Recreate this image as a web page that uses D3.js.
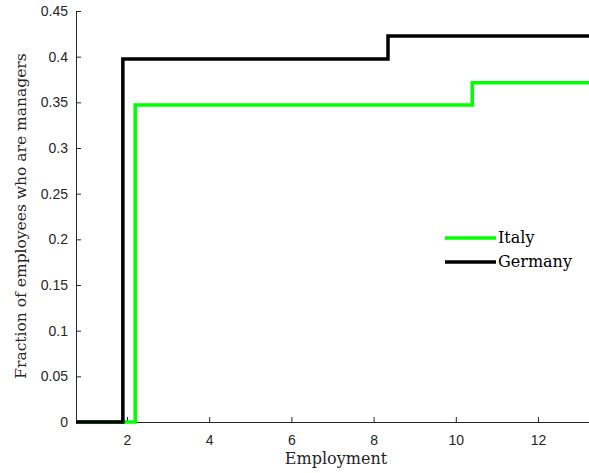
<!DOCTYPE html>
<html>
<head>
<meta charset="utf-8">
<script src="https://cdn.jsdelivr.net/npm/d3@7"></script>
<style>
  body { margin: 0; background: #fff; }
  .axis text { font-family: "Liberation Sans", Arial, sans-serif; font-size: 14px; fill: #262626; }
  .axis path, .axis line { stroke: #262626; }
  .lbl { font-family: "DejaVu Serif", serif; font-size: 16px; }
</style>
</head>
<body>
<div id="chart"></div>
<script>
// step data
const xDomain = [0.76, 13.24];
const italyX = [0.76, 2.2, 10.4, 13.24];
const italyY = [0, 0.347, 0.3715, 0.3715];
const germanyX = [0.76, 1.9, 8.35, 13.24];
const germanyY = [0, 0.3975, 0.4225, 0.4225];
const xTicks = [2, 4, 6, 8, 10, 12];
const yTicks = [0, 0.05, 0.1, 0.15, 0.2, 0.25, 0.3, 0.35, 0.4, 0.45];

const series = [
  {name: "Italy", xs: italyX, ys: italyY, color: "#00ff00"},
  {name: "Germany", xs: germanyX, ys: germanyY, color: "#000000"}
];

const W = 589, H = 473;
const margin = {top: 11, right: 0, bottom: 51, left: 76};
const width = W - margin.left - margin.right;
const height = H - margin.top - margin.bottom;

const svg = d3.select("#chart").append("svg")
  .attr("width", W)
  .attr("height", H);

const g = svg.append("g")
  .attr("transform", `translate(${margin.left},${margin.top})`);

const x = d3.scaleLinear().domain(xDomain).range([0, width]);
const y = d3.scaleLinear().domain([0, 0.45]).range([height, 0]);

g.append("g")
  .attr("class", "axis")
  .attr("transform", `translate(0,${height})`)
  .call(d3.axisBottom(x).tickValues(xTicks).tickSize(-5).tickSizeOuter(0).tickPadding(10))
  .call(a => a.selectAll("text").attr("dy", "0.9em"));

g.append("g")
  .attr("class", "axis")
  .call(d3.axisLeft(y).tickValues(yTicks).tickSize(-5).tickSizeOuter(0).tickPadding(8)
    .tickFormat(d => d === 0 ? "0" : String(+d.toFixed(2))));

const line = d3.line()
  .x(d => x(d[0]))
  .y(d => y(d[1]))
  .curve(d3.curveStepAfter);

series.forEach(s => {
  g.append("path")
    .datum(s.xs.map((v, i) => [v, s.ys[i]]))
    .attr("fill", "none")
    .attr("stroke", s.color)
    .attr("stroke-width", 3.5)
    .attr("d", line);
});

// legend
const legend = svg.append("g").attr("transform", "translate(445,238)");
series.forEach((s, i) => {
  const row = legend.append("g").attr("transform", `translate(0,${i * 24})`);
  row.append("line")
    .attr("x1", 0).attr("x2", 51)
    .attr("stroke", s.color).attr("stroke-width", 3.5);
  row.append("text")
    .attr("class", "lbl")
    .attr("x", 53).attr("y", 5)
    .attr("fill", "#000")
    .text(s.name);
});

svg.append("text")
  .attr("class", "lbl")
  .attr("x", 336)
  .attr("y", 464)
  .attr("text-anchor", "middle")
  .attr("fill", "#262626")
  .text("Employment");

svg.append("text")
  .attr("class", "lbl")
  .attr("transform", "translate(26,216) rotate(-90)")
  .attr("text-anchor", "middle")
  .attr("font-size", 15.5)
  .style("font-size", "15.5px")
  .attr("fill", "#262626")
  .text("Fraction of employees who are managers");
</script>
</body>
</html>
